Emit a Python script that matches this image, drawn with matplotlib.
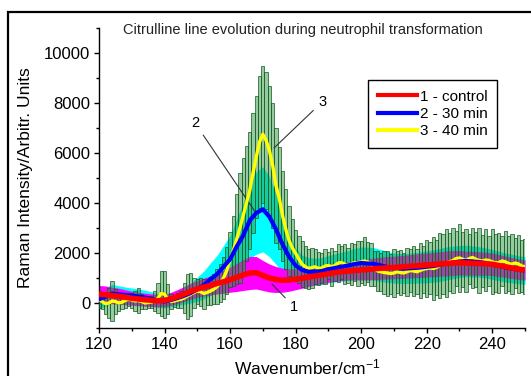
import numpy as np
import matplotlib
matplotlib.use("Agg")
import matplotlib.pyplot as plt
from matplotlib.patches import Rectangle
from matplotlib.lines import Line2D

plt.rcParams['font.family'] = ['Liberation Sans', 'DejaVu Sans']
plt.rcParams['mathtext.fontset'] = 'custom'
plt.rcParams['mathtext.rm'] = 'Liberation Sans'
plt.rcParams['mathtext.it'] = 'Liberation Sans'

# ---------------- data ----------------
# fine grid (1 cm^-1) for the 40 min curve and its error bars
wn_fine = np.arange(120, 251, 1)
y40 = [150, 50, -30, 0, 80, 60, 0, 30, 100, 150,
       120, 80, 100, 60, 0, 20, 40, 80, 200, 380,
       350, 150, 60, 80, 120, 150, 200, 280, 350, 420,
       480, 450, 380, 420, 480, 550, 650, 800, 1000, 1300,
       1750, 2100, 2550, 3000, 3500, 4000, 4500, 5200, 5850, 6450,
       6750, 6500, 6100, 5500, 4700, 4200, 3500, 2950, 2500, 2200,
       1990, 1750, 1550, 1450, 1380, 1420, 1450, 1380, 1400, 1480,
       1500, 1450, 1500, 1600, 1620, 1550, 1500, 1560, 1620, 1600,
       1650, 1680, 1650, 1550, 1400, 1280, 1250, 1220, 1200, 1180,
       1200, 1250, 1220, 1200, 1250, 1300, 1280, 1250, 1300, 1350,
       1380, 1400, 1380, 1420, 1500, 1550, 1600, 1650, 1700, 1780,
       1800, 1750, 1700, 1780, 1820, 1750, 1700, 1680, 1720, 1700,
       1650, 1600, 1620, 1680, 1650, 1580, 1550, 1600, 1560, 1480,
       1450]
err40 = [350, 300, 400, 600, 800, 500, 300, 250, 300, 250,
         300, 400, 500, 300, 250, 200, 250, 400, 600, 900,
         950, 600, 300, 250, 300, 350, 600, 900, 850, 600,
         500, 550, 600, 500, 550, 600, 700, 750, 850, 950,
         1100, 1400, 1800, 2200, 2300, 2300, 2350, 2400, 2450, 2650,
         2750, 2750, 2600, 2500, 2300, 2050, 1800, 1600, 1400, 1150,
         950, 950, 920, 850, 800, 800, 700, 650, 600, 700,
         550, 750, 600, 750, 650, 800, 700, 850, 750, 900,
         850, 950, 800, 850, 700, 800, 750, 850, 900, 800,
         950, 850, 900, 800, 950, 850, 1000, 900, 1100, 950,
         1150, 1050, 1250, 1100, 1300, 1200, 1350, 1150, 1300, 1100,
         1350, 1100, 1250, 1000, 1200, 1100, 1300, 1050, 1250, 1000,
         1300, 1150, 1200, 1000, 1250, 1100, 1200, 1000, 1150, 1050,
         1100]

# coarse grid (2 cm^-1) for control and 30 min curves
wn = np.arange(120, 251, 2)
y_ctrl = [350, 330, 300, 270, 230, 190, 160, 130, 110, 90,
          100, 170, 260, 360, 470, 560, 640, 700, 780, 850,
          930, 1020, 1120, 1200, 1210, 1100, 1000, 940, 910, 920,
          950, 990, 1040, 1080, 1120, 1170,
          1220, 1250, 1280, 1300, 1320, 1340, 1370, 1390, 1410, 1420,
          1440, 1460, 1480, 1500, 1520, 1540, 1560, 1580, 1600, 1610,
          1600, 1590, 1580, 1570, 1550, 1500, 1450, 1400, 1350, 1320]
err_ctrl = [350, 350, 330, 320, 300, 280, 270, 260, 250, 250,
            250, 260, 280, 300, 320, 340, 360, 380, 420, 460,
            500, 560, 620, 660, 650, 600, 560, 520, 480, 450,
            420, 400, 380, 360, 350, 340,
            340, 350, 360, 380, 400, 420, 430, 440, 450, 450,
            460, 460, 470, 480, 480, 490, 490, 500, 500, 490,
            480, 480, 470, 460, 450, 440, 430, 420, 410, 400]
y30 = [150, 250, 380, 350, 320, 300, 260, 220, 170, 100,
       60, 120, 200, 290, 400, 550, 720, 950, 1150, 1450,
       1750, 2250, 2700, 3300, 3600, 3750, 3450, 2950, 2350, 1850,
       1500, 1320, 1250, 1250, 1280, 1350,
       1400, 1450, 1500, 1560, 1600, 1580, 1560, 1500, 1440, 1400,
       1380, 1380, 1400, 1420, 1450, 1480, 1520, 1580, 1620, 1660,
       1680, 1660, 1640, 1600, 1540, 1480, 1420, 1380, 1330, 1300]
err30 = [380, 380, 360, 340, 320, 300, 300, 290, 280, 270,
         260, 270, 300, 340, 400, 480, 560, 650, 750, 850,
         950, 1100, 1300, 1500, 1650, 1700, 1600, 1400, 1150, 900,
         700, 600, 560, 540, 540, 550,
         560, 580, 600, 620, 640, 650, 650, 640, 620, 600,
         600, 600, 610, 620, 640, 650, 660, 660, 650, 640,
         630, 620, 610, 600, 600, 590, 580, 570, 560, 550]

labels = ['1 - control', '2 - 30 min', '3 - 40 min']
title = 'Citrulline line evolution during neutrophil transformation'

# ---------------- figure ----------------
fig = plt.figure(figsize=(5.31, 3.76), dpi=100)
ax = fig.add_axes([99/531, 1-328/376, 426/531, 300/376])

y40a = np.array(y40); e40a = np.array(err40)
yc = np.array(y_ctrl); ec = np.array(err_ctrl)
y3 = np.array(y30); e3 = np.array(err30)

ax.fill_between(wn, y3 - e3, y3 + e3, color='#00ffff', lw=0, zorder=1)
ax.fill_between(wn, yc - ec, yc + ec, color='#ff00ff', lw=0, zorder=2)
ax.bar(wn_fine, 2 * e40a, bottom=y40a - e40a, width=1.0,
       color=(0.20, 0.58, 0.26, 0.5), edgecolor=(0.06, 0.36, 0.12, 0.85),
       linewidth=0.6, zorder=3)

ax.plot(wn_fine, y40a, color='#ffff00', lw=2.4, zorder=4)
ax.plot(wn, y3, color='#0000ff', lw=3.0, zorder=5)
ax.plot(wn, yc, color='#ff0000', lw=4.0, zorder=6)

ax.set_xlim(120, 250)
ax.set_ylim(-1000, 11000)
ax.set_xticks(np.arange(120, 241, 20))
ax.set_xticks(np.arange(120, 251, 10), minor=True)
ax.set_yticks(np.arange(0, 10001, 2000))
ax.set_yticks(np.arange(-1000, 11001, 1000), minor=True)
for s in ['top', 'right']:
    ax.spines[s].set_visible(False)
for s in ['left', 'bottom']:
    ax.spines[s].set_linewidth(1.0)
ax.tick_params(which='major', direction='out', length=3.8, width=1.0,
               labelsize=12, pad=2.5)
ax.tick_params(which='minor', direction='out', length=2.2, width=1.0)

# annotations
ax.annotate('2', xy=(167.9, 3600), xytext=(149.3, 7200),
            fontsize=10.5, ha='center', va='center',
            arrowprops=dict(arrowstyle='-', lw=0.8, color='#333333',
                            shrinkA=2, shrinkB=0))
ax.annotate('3', xy=(173.4, 6200), xytext=(188.1, 8040),
            fontsize=10.5, ha='center', va='center',
            arrowprops=dict(arrowstyle='-', lw=0.8, color='#333333',
                            shrinkA=2, shrinkB=0))
ax.annotate('1', xy=(172.8, 760), xytext=(179.5, -160),
            fontsize=10.5, ha='center', va='center',
            arrowprops=dict(arrowstyle='-', lw=0.8, color='#333333',
                            shrinkA=2, shrinkB=0))

handles = [Line2D([], [], color='#ff0000', lw=3),
           Line2D([], [], color='#0000ff', lw=3),
           Line2D([], [], color='#ffff00', lw=3)]
leg = ax.legend(handles, labels, loc='upper left',
                bbox_to_anchor=(0.631, 0.827), borderaxespad=0,
                fontsize=11, handlelength=2.6, handletextpad=0.15,
                labelspacing=0.2, borderpad=0.65, fancybox=False,
                framealpha=1, edgecolor='black')
leg.get_frame().set_linewidth(1.0)
leg.set_zorder(10)

fig.text(303/531, 1-30/376, title, fontsize=10.5, ha='center', va='center',
         color='#222222')
fig.text(26/531, 1-178/376, 'Raman Intensity/Arbitr. Units', fontsize=12.5,
         rotation=90, ha='center', va='center')
fig.text(307/531, 1-367/376, 'Wavenumber/cm$^{-1}$', fontsize=12.5,
         ha='center', va='center')

fig.add_artist(Rectangle((8/531, -0.5), 2.0, (1-12/376) + 0.5,
                         transform=fig.transFigure, fill=False,
                         ec='black', lw=1.6, clip_on=False))

fig.savefig('out.png', dpi=100)
